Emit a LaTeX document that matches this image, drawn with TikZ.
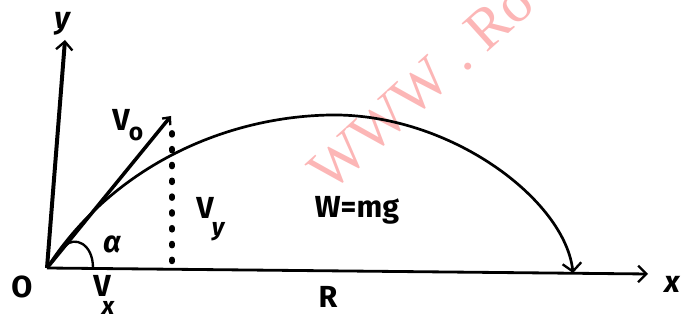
\documentclass[tikz,border=0pt]{standalone}
\usepackage{fontspec}
\setmainfont{Fira Sans}
\newfontfamily\wmfont{Liberation Serif}
\usetikzlibrary{arrows.meta}
\definecolor{wm}{RGB}{252,182,182}
\tikzset{
  lbl/.style={font=\fontsize{26}{26}\selectfont\bfseries, inner sep=0pt},
  sublbl/.style={font=\fontsize{21}{21}\selectfont\bfseries, inner sep=0pt},
  axis/.style={line width=2.4pt},
  vtip/.style={-{Straight Barb[length=7pt,width=14pt,line width=2pt]}},
}
\begin{document}
\begin{tikzpicture}[x=0.03cm,y=-0.03cm]
\useasboundingbox (0,0) rectangle (690,320);
% watermark
\node[text=wm, font=\wmfont\fontsize{50}{50}\selectfont, rotate=42, anchor=base west, inner sep=0pt] (wmk) at (330,194) {WWW . Ro};
% coordinates
\coordinate (O) at (47,268);
\coordinate (ytop) at (65,40);
\coordinate (xend) at (648,274);
\coordinate (v0) at (171,116);
\coordinate (dtop) at (172,133);
\coordinate (dbot) at (172,268);
\coordinate (land) at (573,273);
% axes
\draw[line width=3.4pt, vtip] (O) -- (ytop);
\draw[axis, vtip] (O) -- (xend);
% initial velocity
\draw[line width=3pt, -{Straight Barb[length=5pt,width=9pt,line width=2pt]}] (O) -- (v0);
% dotted component
\draw[line width=5pt, line cap=round, dash pattern=on 1.5pt off 12pt] (dtop) -- (dbot);
% trajectory
\draw[line width=2.3pt, -{Straight Barb[length=7pt,width=16pt,line width=2pt]}] (O) .. controls (110,170) and (220,117) .. (330,115) .. controls (450,113) and (565,200) .. (land);
% angle arc
\draw[line width=2pt] (93,268) .. controls (93,243) and (74,236) .. (65,246);
% labels
\node[lbl] (ly) at (62,24) {\itshape y};
\node[lbl] (lO) at (22,287) {O};
\node[lbl] (lv0) at (121,120) {V};
\node[sublbl] (lv0s) at (136,134) {o};
\node[lbl] (la) at (112,244) {\itshape α};
\node[lbl] (lvy) at (205,208) {V};
\node[sublbl] (lvys) at (218,232) {\itshape y};
\node[lbl] (lvx) at (102,286) {V};
\node[sublbl] (lvxs) at (108,308) {\itshape x};
\node[lbl] (lR) at (328,297) {R};
\node[lbl] (lx) at (672,284) {\itshape x};
\node[lbl] (lW) at (357,210) {W=mg};
\end{tikzpicture}
\end{document}
